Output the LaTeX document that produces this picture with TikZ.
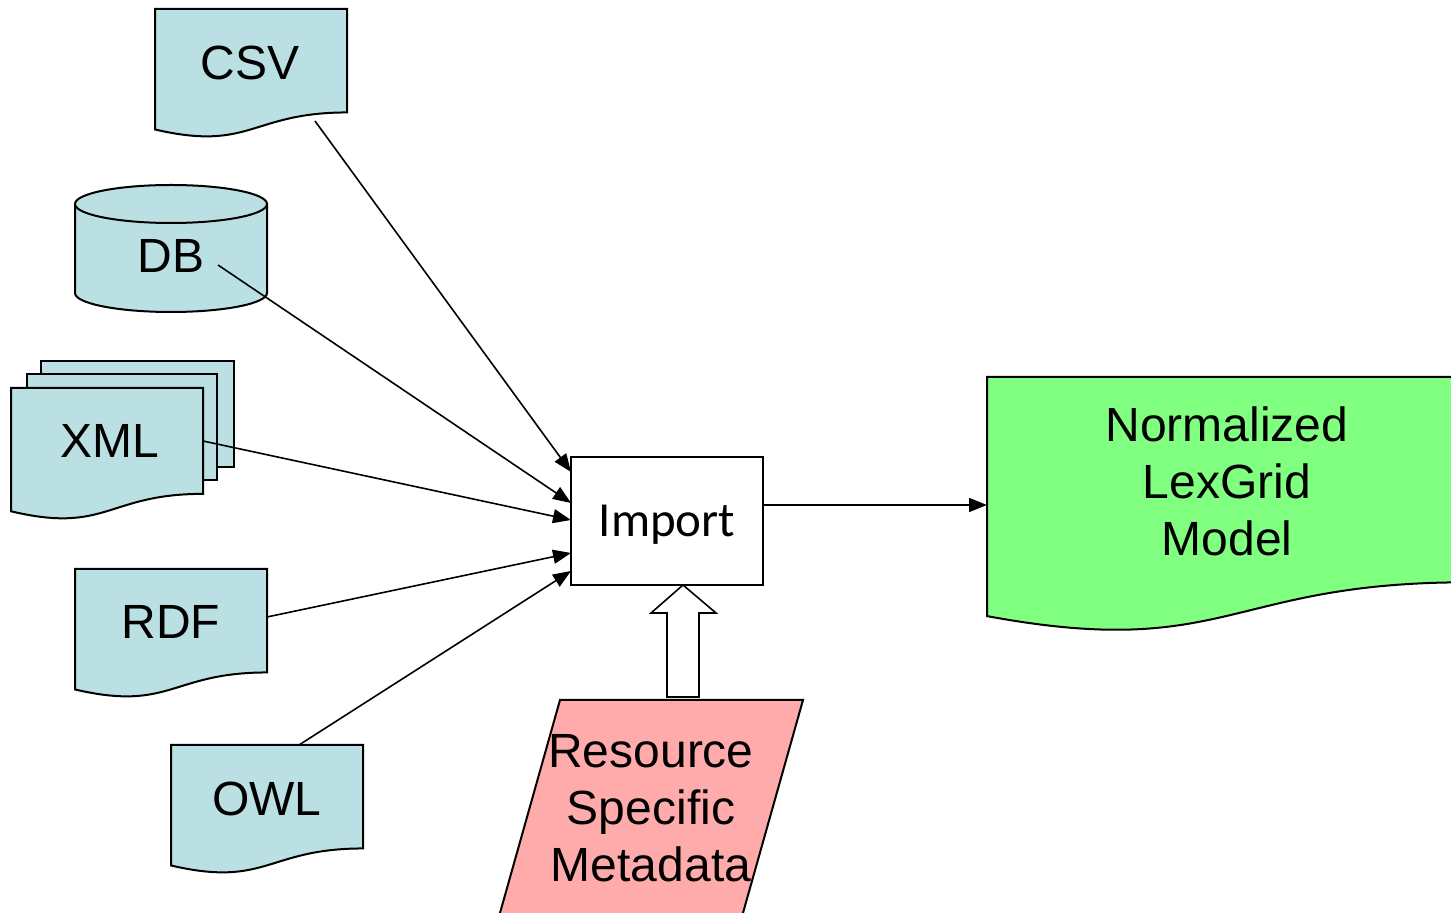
\documentclass[tikz,border=0pt]{standalone}
\usepackage{fontspec}
\setmainfont{Liberation Sans}
\newfontfamily\impfont{Carlito}
\usetikzlibrary{arrows.meta}
\definecolor{docblue}{HTML}{BBE0E3}
\definecolor{modelgreen}{HTML}{80FF80}
\definecolor{metapink}{HTML}{FFABAB}
% document shape: #1 style, #2 left, #3 top, #4 width, #5 height
\newcommand{\docshape}[5]{%
  \path[#1] (#2,#3) -- ({#2+#4},#3) -- ({#2+#4},{#3+0.802*#5})
    .. controls ({#2+0.5*#4},{#3+0.802*#5}) and ({#2+0.5*#4},{#3+1.1075*#5})
    .. (#2,{#3+0.934*#5}) -- cycle;}
\begin{document}
\begin{tikzpicture}[x=0.5pt,y=-0.5pt,
  outline/.style={draw=black,line width=1pt,line join=miter},
  src/.style={outline,fill=docblue},
  conn/.style={draw=black,line width=0.8pt,-{Triangle[length=9pt,width=7pt]}},
  lbl/.style={anchor=base,font=\fontsize{24}{28.5}\selectfont,inner sep=0pt}]
\useasboundingbox (0,0) rectangle (1451,913);
\clip (0,0) rectangle (1451,913);
\fill[white] (0,0) rectangle (1451,913);

% CSV
\docshape{src}{155}{9}{192}{129}
\node[lbl] (csv) at (250,80) {CSV};
% DB cylinder
\path[src] (75,204) -- (75,293) arc[start angle=180,end angle=360,x radius=48pt,y radius=9.5pt] -- (267,204) -- cycle;
\path[src] (171,204) ellipse [x radius=48pt,y radius=9.5pt];
\node[lbl] (db) at (171,273) {DB};
% XML stack
\path[src] (41,361) rectangle (234,467);
\path[src] (27,374) rectangle (217,480);
\docshape{src}{11}{388}{192}{132}
\node[lbl] (xml) at (110,458) {XML};
% RDF
\docshape{src}{75}{569}{192}{129}
\node[lbl] (rdf) at (171,639) {RDF};
% OWL
\docshape{src}{171}{745}{192}{129}
\node[lbl] (owl) at (267,815) {OWL};

% Import box
\node[outline,fill=white,minimum width=96pt,minimum height=64pt,inner sep=0pt,text depth=0pt,
      font=\impfont\fontsize{24.5}{28}\selectfont] (imp) at (667,521) {Import};

% Normalized model
\docshape{outline,fill=modelgreen}{987}{377}{480}{256}
\node[lbl] (model) at (1227,442) {\begin{tabular}[t]{@{}c@{}}Normalized\\LexGrid\\Model\end{tabular}};

% Metadata parallelogram
\path[outline,fill=metapink] (560,700) -- (803,700) -- (739.6,925) -- (496.6,925) -- cycle;
\node[lbl] (meta) at (651,768) {\begin{tabular}[t]{@{}c@{}}Resource\\Specific\\Metadata\end{tabular}};

% block arrow
\path[draw=black,line width=0.8pt,fill=white,line join=miter]
  (667,697) -- (667,613) -- (651,613) -- (683,585) -- (716,613) -- (699,613) -- (699,697) -- cycle;

% connector coordinates
\coordinate (csvout) at (315,121);
\coordinate (dbout) at (218,265);
\coordinate (xmlout) at (203,441);
\coordinate (rdfout) at (267,617);
\coordinate (owlout) at (299,745);
\coordinate (in1) at (571,472);
\coordinate (in2) at (571,503);
\coordinate (in3) at (571,520);
\coordinate (in4) at (571,553);
\coordinate (in5) at (571,571);
\coordinate (impout) at (763,505);
\coordinate (modelin) at (987,505);

\draw[conn] (csvout) -- (in1);
\draw[conn] (dbout) -- (in2);
\draw[conn] (xmlout) -- (in3);
\draw[conn] (rdfout) -- (in4);
\draw[conn] (owlout) -- (in5);
\draw[conn] (impout) -- (modelin);
\end{tikzpicture}
\end{document}
